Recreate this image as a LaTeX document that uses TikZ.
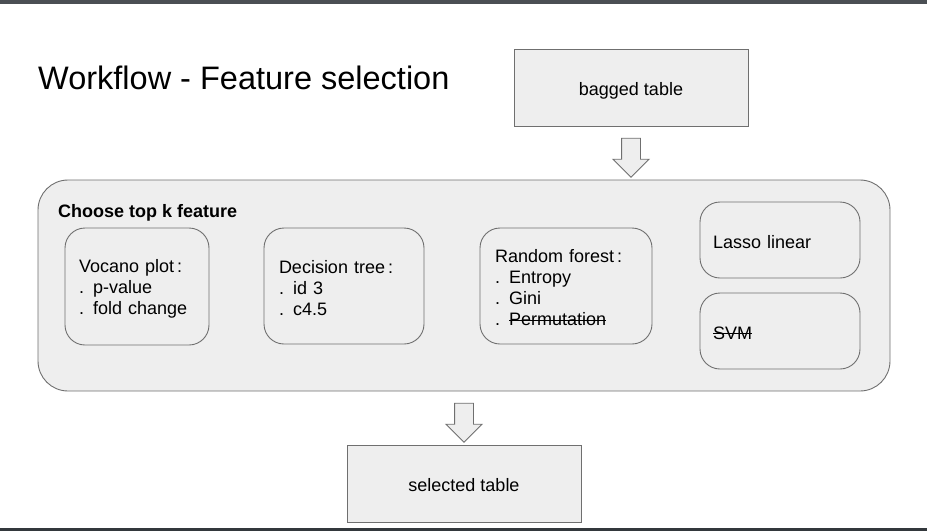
\documentclass[tikz,border=0pt]{standalone}
\usepackage{fontspec}
\setmainfont{Liberation Sans}
\usetikzlibrary{shapes.arrows}
\definecolor{boxfill}{HTML}{EEEEEE}
\definecolor{boxline}{HTML}{6F6F6F}
\definecolor{topbar}{HTML}{4B4F54}
\definecolor{botbar}{HTML}{33383C}
\newlength\stkw
\newcommand\strk[1]{\settowidth\stkw{#1}\rlap{\rule[0.3em]{\stkw}{0.9pt}}#1}
\tikzset{
  bodytext/.style={font={\fontsize{18}{21}\selectfont}},
  sqbox/.style={draw=boxline, fill=boxfill, line width=0.9pt, bodytext, minimum width=234pt, minimum height=77pt, inner sep=0pt, text height=19pt, text depth=3.8pt},
  rbox/.style={draw=boxline, fill=boxfill, line width=0.9pt, rounded corners=20pt, bodytext, align=left, inner ysep=0pt, text height=17pt},
  blockarrow/.style={single arrow, draw=boxline, fill=boxfill, line width=0.9pt, shape border rotate=270, minimum height=39pt, single arrow head extend=8.5pt, inner sep=9pt, minimum width=35pt}
}
\begin{document}
\begin{tikzpicture}[x=1pt,y=-1pt]
\useasboundingbox (0,0) rectangle (927,531);
\fill[topbar] (0,0) rectangle (927,4);
\fill[botbar] (0,528) rectangle (927,531);
\node[anchor=base west, inner sep=0pt, font={\fontsize{32.5}{36}\selectfont}] (title) at (38,89) {Workflow - Feature selection};
\node[sqbox] (bag) at (631,87.5) {bagged table};
\node[draw=boxline, fill=boxfill, line width=0.9pt, rounded corners=30pt, minimum width=852pt, minimum height=211pt, inner sep=0pt] (big) at (464,285.5) {};
\node[anchor=base west, inner sep=0pt, font={\fontsize{18}{21}\selectfont\bfseries}] (choose) at (58,217) {Choose top k feature};
\node[rbox, minimum width=144pt, minimum height=117pt, text width=116pt, inner xsep=14pt] (voc) at (137,286.5) {Vocano plot\,:\\. p-value\\. fold change};
\node[rbox, minimum width=160pt, minimum height=116pt, text width=130pt, inner xsep=15pt] (dt) at (344,286) {Decision tree\,:\\. id 3\\. c4.5};
\node[rbox, minimum width=172pt, minimum height=116pt, text width=142pt, inner xsep=15pt] (rf) at (566,286) {Random forest\,:\\. Entropy\\. Gini\\. \strk{Permutation}};
\node[rbox, minimum width=160pt, minimum height=76pt, text width=134pt, inner xsep=13pt] (lasso) at (780,240) {Lasso linear};
\node[rbox, minimum width=160pt, minimum height=76pt, text width=134pt, inner xsep=13pt] (svm) at (780,331) {\strk{SVM}};
\node[sqbox] (sel) at (464,483.5) {selected table};
\path (bag.south) -- (bag.south |- big.north) node[midway, blockarrow] (a1) {};
\path (big.south) -- (sel.north) node[midway, blockarrow] (a2) {};
\end{tikzpicture}
\end{document}
